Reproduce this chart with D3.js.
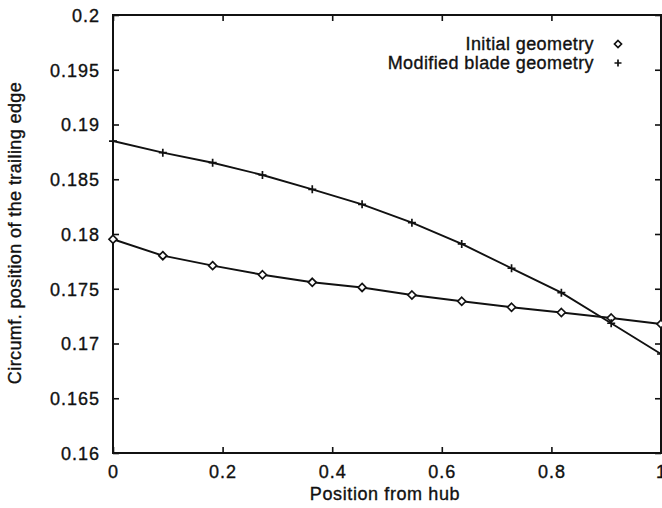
<!DOCTYPE html>
<html>
<head>
<meta charset="utf-8">
<script src="https://cdn.jsdelivr.net/npm/d3@7"></script>
<style>
  body { margin: 0; background: #fff; }
  svg { display: block; }
  text { font-family: "Liberation Sans", Arial, Helvetica, sans-serif; fill: #111; stroke: #111; stroke-width: 0.35px; }
</style>
</head>
<body>
<div id="chart"></div>
<script>
// Position along the blade, hub -> tip
const positions = [0, 1/11, 2/11, 3/11, 4/11, 5/11, 6/11, 7/11, 8/11, 9/11, 10/11, 1];
const initialGeometry = [0.17952, 0.17802, 0.17711, 0.17628, 0.17559, 0.17512, 0.17443,
    0.17386, 0.17331, 0.17283, 0.17233, 0.17178];
const modifiedGeometry = [0.18849, 0.18743, 0.18651, 0.18539, 0.18408, 0.18271, 0.18103,
    0.17909, 0.17687, 0.17464, 0.17185, 0.16904];
const xTicks = [0, 0.2, 0.4, 0.6, 0.8, 1];
const yTicks = [0.16, 0.165, 0.17, 0.175, 0.18, 0.185, 0.19, 0.195, 0.2];
const seriesNames = ["Initial geometry", "Modified blade geometry"];

const width = 662, height = 508;
const margin = { top: 15, right: 1, bottom: 55, left: 113 };
const innerW = width - margin.left - margin.right,
    innerH = height - margin.top - margin.bottom;

const svg = d3.select("#chart")
    .append("svg")
    .attr("width", width)
    .attr("height", height);

const g = svg.append("g")
    .attr("transform", "translate(" + margin.left + "," + margin.top + ")");

const x = d3.scaleLinear().domain([0, 1]).range([0, innerW]);
const y = d3.scaleLinear().domain([0.16, 0.2]).range([innerH, 0]);

const fmt = (d) => String(+d.toFixed(3));
const tickLen = 6;

// axes: labelled left/bottom, mirrored ticks on top/right, all pointing inward
const styleAxis = (sel) => {
    sel.select(".domain").remove();
    sel.selectAll("line").attr("stroke", "#111").attr("stroke-width", 1.6);
    sel.selectAll("text")
        .style("font-size", "18px")
        .style("letter-spacing", "1px")
        .attr("fill", "#111");
};

g.append("g")
    .call(d3.axisLeft(y).tickValues(yTicks).tickFormat(fmt).tickSizeInner(-tickLen).tickSizeOuter(0).tickPadding(13))
    .call(styleAxis)
    .selectAll("text").attr("dy", "0.35em");

g.append("g")
    .attr("transform", "translate(0," + innerH + ")")
    .call(d3.axisBottom(x).tickValues(xTicks).tickFormat(fmt).tickSizeInner(-tickLen).tickSizeOuter(0).tickPadding(12))
    .call(styleAxis);

g.append("g")
    .call(d3.axisTop(x).tickValues(xTicks).tickFormat("").tickSizeInner(-tickLen).tickSizeOuter(0))
    .call(styleAxis);

g.append("g")
    .attr("transform", "translate(" + innerW + ",0)")
    .call(d3.axisRight(y).tickValues(yTicks).tickFormat("").tickSizeInner(-tickLen).tickSizeOuter(0))
    .call(styleAxis);

// frame
g.append("rect")
    .attr("width", innerW)
    .attr("height", innerH)
    .attr("fill", "none")
    .attr("stroke", "#111")
    .attr("stroke-width", 2);

// axis titles
svg.append("text")
    .attr("x", margin.left + innerW * 0.5 - 2)
    .attr("y", 500)
    .attr("text-anchor", "middle")
    .style("font-size", "18px")
    .style("letter-spacing", "0.6px")
    .text("Position from hub");

svg.append("text")
    .attr("transform", "translate(21,233) rotate(-90)")
    .attr("text-anchor", "middle")
    .style("font-size", "18px")
    .style("letter-spacing", "0.4px")
    .text("Circumf. position of the trailing edge");

// lines
const line = d3.line()
    .x((d) => x(d[0]))
    .y((d) => y(d[1]));

const initPts = positions.map((p, i) => [p, initialGeometry[i]]);
const modPts = positions.map((p, i) => [p, modifiedGeometry[i]]);

[initPts, modPts].forEach((pts) => {
    g.append("path")
        .datum(pts)
        .attr("d", line)
        .attr("fill", "none")
        .attr("stroke", "#111")
        .attr("stroke-width", 1.9);
});

const diamond = (sel, s) => sel.append("path")
    .attr("d", `M0,${-s}L${s},0L0,${s}L${-s},0Z`)
    .attr("fill", "#fff")
    .attr("stroke", "#111")
    .attr("stroke-width", 1.7);

const plus = (sel, s) => sel.append("path")
    .attr("d", `M${-s},0H${s}M0,${-s}V${s}`)
    .attr("fill", "none")
    .attr("stroke", "#111")
    .attr("stroke-width", 1.7);

g.selectAll(".dia")
    .data(initPts)
    .enter()
    .append("g")
    .attr("transform", (d) => `translate(${x(d[0])},${y(d[1])})`)
    .each(function () { diamond(d3.select(this), 4); });

g.selectAll(".plus")
    .data(modPts)
    .enter()
    .append("g")
    .attr("transform", (d) => `translate(${x(d[0])},${y(d[1])})`)
    .each(function () { plus(d3.select(this), 4); });

// legend
const legend = svg.append("g");
const legendY = [50, 69];
seriesNames.forEach((name, i) => {
    legend.append("text")
        .attr("x", 594)
        .attr("y", legendY[i])
        .attr("text-anchor", "end")
        .style("font-size", "18px")
        .style("letter-spacing", "0.4px")
        .text(name);
    const m = legend.append("g").attr("transform", `translate(618,${legendY[i] - 6})`);
    if (i === 0) diamond(m, 3.5);
    else plus(m, 3.5);
});
</script>
</body>
</html>
